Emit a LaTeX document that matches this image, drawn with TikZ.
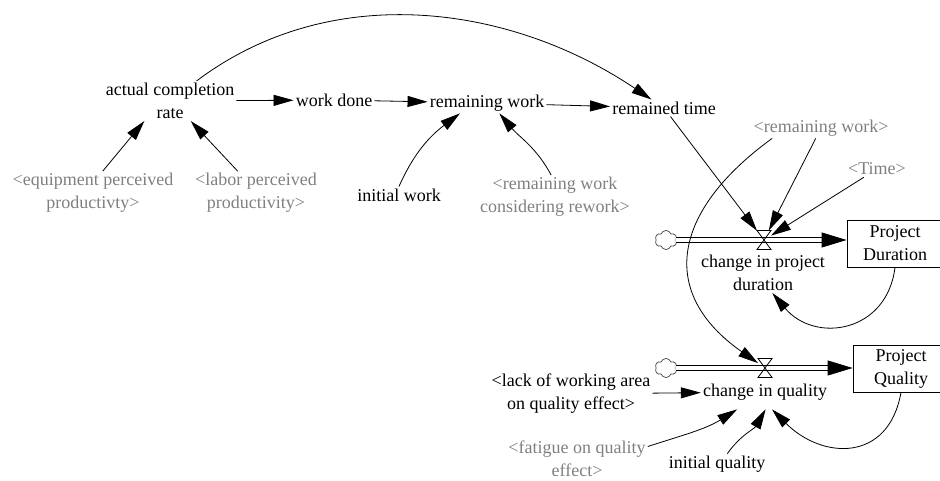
\documentclass[tikz,border=0pt]{standalone}
\usepackage{fontspec}
\setmainfont{Liberation Serif}
\usepackage{tikz}
\usetikzlibrary{arrows.meta, positioning, shapes.symbols, calc}
\definecolor{shadowgray}{RGB}{128,128,128}

\begin{document}
\begin{tikzpicture}[x=1pt, y=1pt, >={Triangle[length=20pt,width=11pt]},
  every node/.style={font=\fontsize{18}{23}\selectfont, align=center, inner sep=2pt},
  shadow/.style={text=shadowgray},
  link/.style={->, line width=0.8pt},
  level/.style={draw, line width=0.8pt, minimum width=96pt, minimum height=47pt, inner sep=0pt},
  source/.style={cloud, cloud puffs=6, cloud puff arc=140, draw=black!75,
    line width=0.7pt, minimum width=22pt, minimum height=19pt, inner sep=0pt},
  valve/.style={minimum width=14pt, minimum height=19pt, inner sep=0pt, outer sep=0pt},
  valveline/.style={line width=0.8pt},
  pipe/.style={double, double distance=4.2pt, line width=0.9pt, shorten >=18pt},
  pipehead/.style={-{Triangle[length=25pt,width=15pt]}, line width=0.8pt}]
  \useasboundingbox (0,0) rectangle (940,-481);

  % Auxiliaries
  \node (acr) at (170,-101) {actual completion\\rate};
  \node (wd) at (334,-100) {work done};
  \node (rw) at (487,-103) {remaining work};
  \node (rt) at (664,-108) {remained time};
  \node[shadow] (eqp) at (93,-193) {<equipment perceived\\productivty>};
  \node[shadow] (lpp) at (256,-193) {<labor perceived\\productivity>};
  \node (iw) at (399,-195) {initial work};
  \node[shadow] (rwcr) at (555,-197) {<remaining work\\considering rework>};
  \node[shadow] (rwg) at (821,-128) {<remaining work>};
  \node[shadow] (tm) at (877,-169) {<Time>};

  % Stocks, clouds and valves
  \node[level] (pd) at (895,-243.5) {Project\\Duration};
  \node[level] (pq) at (901,-368.5) {Project\\Quality};
  \node[source] (cl1) at (666,-240) {};
  \node[source] (cl2) at (666,-368) {};
  \node[valve] (v1) at (764,-240) {};
  \node[valve] (v2) at (765,-368) {};
  \node (cpd) at (763,-273) {change in project\\duration};
  \node[inner ysep=9pt] (cq) at (765,-392) {change in quality};
  \node (lwa) at (571,-394) {<lack of working area\\on quality effect>};
  \node[shadow] (fqe) at (577,-459) {<fatigue on quality\\effect>};
  \node (iq) at (717,-464) {initial quality};

  % Flows
  \coordinate (pd-in) at (cl1.east -| pd.west);
  \coordinate (pq-in) at (cl2.east -| pq.west);
  \draw[pipe] (cl1.east) -- (pd-in);
  \draw[pipe] (cl2.east) -- (pq-in);
  \draw[pipehead] ($(pd-in)+(-25,0)$) -- (pd-in);
  \draw[pipehead] ($(pq-in)+(-25,0)$) -- (pq-in);
  \foreach \v in {v1,v2} {
    \draw[valveline] (\v.north west) -- (\v.north east) -- (\v.south west)
      -- (\v.south east) -- cycle;
  }

  % Links
  \draw[link] (acr) -- (wd);
  \draw[link] (wd) -- (rw);
  \draw[link] (rw) -- (rt);
  \draw[link] (acr) to[out=37,in=146,looseness=0.95] (rt);
  \draw[link] (eqp.66) -- (acr.218);
  \draw[link] (lpp.130) -- (acr.-44);
  \draw[link] (iw.north) to[out=66,in=-143] (rw.201);
  \draw[link] (rwcr.100) to[out=118,in=-50] (rw.-40);
  \draw[link] (rt) -- (v1);
  \draw[link] (rwg) -- (v1);
  \draw[link] (tm) -- (v1);
  \draw[link] (rwg.192) to[out=216,in=145,looseness=1.4] (v2);
  \draw[link] (pd.south) to[out=-97,in=-50,looseness=1.35] (cpd.-65);
  \draw[link] (pq.south) to[out=-100,in=-45,looseness=1.4] (cq.-68);
  \draw[link] (lwa) -- (cq);
  \draw[link] (fqe.10) to[out=18,in=-148] (cq);
  \draw[link] (iq.45) to[out=55,in=-120] (cq.-88);
\end{tikzpicture}
\end{document}
